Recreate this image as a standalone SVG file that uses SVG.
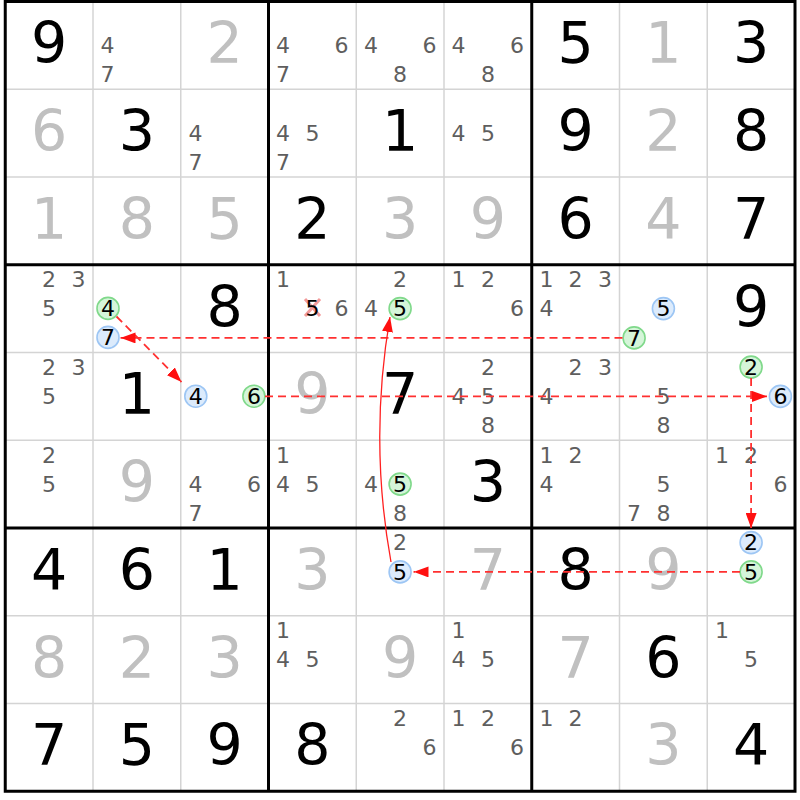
<svg xmlns="http://www.w3.org/2000/svg" width="800" height="800" viewBox="0 0 800 800">
<style>
text{font-family:"DejaVu Sans",Verdana,sans-serif;text-anchor:middle}
.b{font-size:57px;fill:#000}
.g{font-size:57px;fill:#c0c0c0}
.c{font-size:22px;fill:#5e5e5e}
.h{font-size:22px;fill:#000}
.cg{fill:#d5f5d9;stroke:#80d98b;stroke-width:1.6}
.cb{fill:#dcebfc;stroke:#9dc6f4;stroke-width:1.6}
.thin{stroke:#d4d4d4;stroke-width:1.5}
.thick{stroke:#000;stroke-width:3}
.dash{fill:none;stroke:#ff3030;stroke-width:1.8;stroke-dasharray:8,5;marker-end:url(#ah)}
.solid{fill:none;stroke:#ff2020;stroke-width:1.3;marker-end:url(#ah)}
.x{stroke:#f29a9a;stroke-width:3}
</style>
<defs>
<marker id="ah" markerUnits="userSpaceOnUse" markerWidth="15" markerHeight="11" refX="15" refY="5.5" orient="auto">
<path d="M0,0 L15,5.5 L0,11 Z" fill="#ff1010"/>
</marker>
</defs>
<rect x="0" y="0" width="800" height="800" fill="#fff"/>
<g id="grid">
<g class="thin">
<line x1="93" y1="1.5" x2="93" y2="791.25"/>
<line x1="180.75" y1="1.5" x2="180.75" y2="791.25"/>
<line x1="356.25" y1="1.5" x2="356.25" y2="791.25"/>
<line x1="444" y1="1.5" x2="444" y2="791.25"/>
<line x1="619.5" y1="1.5" x2="619.5" y2="791.25"/>
<line x1="707.25" y1="1.5" x2="707.25" y2="791.25"/>
<line x1="5.25" y1="89.25" x2="795" y2="89.25"/>
<line x1="5.25" y1="177" x2="795" y2="177"/>
<line x1="5.25" y1="352.5" x2="795" y2="352.5"/>
<line x1="5.25" y1="440.25" x2="795" y2="440.25"/>
<line x1="5.25" y1="615.75" x2="795" y2="615.75"/>
<line x1="5.25" y1="703.5" x2="795" y2="703.5"/>
</g>
<g class="thick">
<line x1="268.5" y1="1.5" x2="268.5" y2="791.25"/>
<line x1="531.75" y1="1.5" x2="531.75" y2="791.25"/>
<line x1="5.25" y1="264.75" x2="795" y2="264.75"/>
<line x1="5.25" y1="528" x2="795" y2="528"/>
<rect x="5.25" y="1.5" width="789.75" height="789.75" fill="none"/>
</g>
</g>
<g id="cells">
<g id="r0c0"><text class="b" x="49.1" y="63.4">9</text></g>
<g id="r0c1"><text class="c" x="107.6" y="53.2">4</text><text class="c" x="107.6" y="82.4">7</text></g>
<g id="r0c2"><text class="g" x="224.6" y="63.4">2</text></g>
<g id="r0c3"><text class="c" x="283.1" y="53.2">4</text><text class="c" x="341.6" y="53.2">6</text><text class="c" x="283.1" y="82.4">7</text></g>
<g id="r0c4"><text class="c" x="370.9" y="53.2">4</text><text class="c" x="429.4" y="53.2">6</text><text class="c" x="400.1" y="82.4">8</text></g>
<g id="r0c5"><text class="c" x="458.6" y="53.2">4</text><text class="c" x="517.1" y="53.2">6</text><text class="c" x="487.9" y="82.4">8</text></g>
<g id="r0c6"><text class="b" x="575.6" y="63.4">5</text></g>
<g id="r0c7"><text class="g" x="663.4" y="63.4">1</text></g>
<g id="r0c8"><text class="b" x="751.1" y="63.4">3</text></g>

<g id="r1c0"><text class="g" x="49.1" y="151.1">6</text></g>
<g id="r1c1"><text class="b" x="136.9" y="151.1">3</text></g>
<g id="r1c2"><text class="c" x="195.4" y="140.9">4</text><text class="c" x="195.4" y="170.2">7</text></g>
<g id="r1c3"><text class="c" x="283.1" y="140.9">4</text><text class="c" x="312.4" y="140.9">5</text><text class="c" x="283.1" y="170.2">7</text></g>
<g id="r1c4"><text class="b" x="400.1" y="151.1">1</text></g>
<g id="r1c5"><text class="c" x="458.6" y="140.9">4</text><text class="c" x="487.9" y="140.9">5</text></g>
<g id="r1c6"><text class="b" x="575.6" y="151.1">9</text></g>
<g id="r1c7"><text class="g" x="663.4" y="151.1">2</text></g>
<g id="r1c8"><text class="b" x="751.1" y="151.1">8</text></g>

<g id="r2c0"><text class="g" x="49.1" y="238.9">1</text></g>
<g id="r2c1"><text class="g" x="136.9" y="238.9">8</text></g>
<g id="r2c2"><text class="g" x="224.6" y="238.9">5</text></g>
<g id="r2c3"><text class="b" x="312.4" y="238.9">2</text></g>
<g id="r2c4"><text class="g" x="400.1" y="238.9">3</text></g>
<g id="r2c5"><text class="g" x="487.9" y="238.9">9</text></g>
<g id="r2c6"><text class="b" x="575.6" y="238.9">6</text></g>
<g id="r2c7"><text class="g" x="663.4" y="238.9">4</text></g>
<g id="r2c8"><text class="b" x="751.1" y="238.9">7</text></g>

<g id="r3c0"><text class="c" x="49.1" y="287.2">2</text><text class="c" x="78.4" y="287.2">3</text><text class="c" x="49.1" y="316.4">5</text></g>
<g id="r3c1"><circle class="cg" cx="108" cy="308.4" r="11"/><text class="h" x="108" y="316.2">4</text><circle class="cb" cx="108" cy="337.4" r="11"/><text class="h" x="108" y="345.2">7</text></g>
<g id="r3c2"><text class="b" x="224.6" y="326.6">8</text></g>
<g id="r3c3"><text class="c" x="283.1" y="287.2">1</text><line class="x" x1="305" y1="299" x2="320" y2="316"/><line class="x" x1="320" y1="299" x2="305" y2="316"/><text class="h" x="312.4" y="316.4">5</text><text class="c" x="341.6" y="316.4">6</text></g>
<g id="r3c4"><text class="c" x="400.1" y="287.2">2</text><text class="c" x="370.9" y="316.4">4</text><circle class="cg" cx="400.1" cy="308.6" r="11"/><text class="h" x="400.1" y="316.4">5</text></g>
<g id="r3c5"><text class="c" x="458.6" y="287.2">1</text><text class="c" x="487.9" y="287.2">2</text><text class="c" x="517.1" y="316.4">6</text></g>
<g id="r3c6"><text class="c" x="546.4" y="287.2">1</text><text class="c" x="575.6" y="287.2">2</text><text class="c" x="604.9" y="287.2">3</text><text class="c" x="546.4" y="316.4">4</text></g>
<g id="r3c7"><circle class="cb" cx="663.4" cy="308.6" r="11"/><text class="h" x="663.4" y="316.4">5</text><circle class="cg" cx="634.1" cy="337.9" r="11"/><text class="h" x="634.1" y="345.7">7</text></g>
<g id="r3c8"><text class="b" x="751.1" y="326.6">9</text></g>

<g id="r4c0"><text class="c" x="49.1" y="374.9">2</text><text class="c" x="78.4" y="374.9">3</text><text class="c" x="49.1" y="404.2">5</text></g>
<g id="r4c1"><text class="b" x="136.9" y="414.4">1</text></g>
<g id="r4c2"><circle class="cb" cx="195.8" cy="396.2" r="11"/><text class="h" x="195.8" y="404">4</text><circle class="cg" cx="253.9" cy="396.2" r="11"/><text class="h" x="253.9" y="404">6</text></g>
<g id="r4c3"><text class="g" x="312.4" y="414.4">9</text></g>
<g id="r4c4"><text class="b" x="400.1" y="414.4">7</text></g>
<g id="r4c5"><text class="c" x="487.9" y="374.9">2</text><text class="c" x="458.6" y="404.2">4</text><text class="c" x="487.9" y="404.2">5</text><text class="c" x="487.9" y="433.4">8</text></g>
<g id="r4c6"><text class="c" x="575.6" y="374.9">2</text><text class="c" x="604.9" y="374.9">3</text><text class="c" x="546.4" y="404.2">4</text></g>
<g id="r4c7"><text class="c" x="663.4" y="404.2">5</text><text class="c" x="663.4" y="433.4">8</text></g>
<g id="r4c8"><circle class="cg" cx="751.1" cy="367.1" r="11"/><text class="h" x="751.1" y="374.9">2</text><circle class="cb" cx="780.4" cy="396.4" r="11"/><text class="h" x="780.4" y="404.2">6</text></g>

<g id="r5c0"><text class="c" x="49.1" y="462.7">2</text><text class="c" x="49.1" y="491.9">5</text></g>
<g id="r5c1"><text class="g" x="136.9" y="502.1">9</text></g>
<g id="r5c2"><text class="c" x="195.4" y="491.9">4</text><text class="c" x="253.9" y="491.9">6</text><text class="c" x="195.4" y="521.2">7</text></g>
<g id="r5c3"><text class="c" x="283.1" y="462.7">1</text><text class="c" x="283.1" y="491.9">4</text><text class="c" x="312.4" y="491.9">5</text></g>
<g id="r5c4"><text class="c" x="370.9" y="491.9">4</text><circle class="cg" cx="400.1" cy="484.1" r="11"/><text class="h" x="400.1" y="491.9">5</text><text class="c" x="400.1" y="521.2">8</text></g>
<g id="r5c5"><text class="b" x="487.9" y="502.1">3</text></g>
<g id="r5c6"><text class="c" x="546.4" y="462.7">1</text><text class="c" x="575.6" y="462.7">2</text><text class="c" x="546.4" y="491.9">4</text></g>
<g id="r5c7"><text class="c" x="663.4" y="491.9">5</text><text class="c" x="634.1" y="521.2">7</text><text class="c" x="663.4" y="521.2">8</text></g>
<g id="r5c8"><text class="c" x="722" y="462.7">1</text><text class="c" x="751.1" y="462.7">2</text><text class="c" x="780.4" y="491.9">6</text></g>

<g id="r6c0"><text class="b" x="49.1" y="589.9">4</text></g>
<g id="r6c1"><text class="b" x="136.9" y="589.9">6</text></g>
<g id="r6c2"><text class="b" x="224.6" y="589.9">1</text></g>
<g id="r6c3"><text class="g" x="312.4" y="589.9">3</text></g>
<g id="r6c4"><text class="c" x="400.1" y="550.4">2</text><circle class="cb" cx="400.1" cy="571.9" r="11"/><text class="h" x="400.1" y="579.7">5</text></g>
<g id="r6c5"><text class="g" x="487.9" y="589.9">7</text></g>
<g id="r6c6"><text class="b" x="575.6" y="589.9">8</text></g>
<g id="r6c7"><text class="g" x="663.4" y="589.9">9</text></g>
<g id="r6c8"><circle class="cb" cx="751.1" cy="542.6" r="11"/><text class="h" x="751.1" y="550.4">2</text><circle class="cg" cx="751.1" cy="571.9" r="11"/><text class="h" x="751.1" y="579.7">5</text></g>

<g id="r7c0"><text class="g" x="49.1" y="677.6">8</text></g>
<g id="r7c1"><text class="g" x="136.9" y="677.6">2</text></g>
<g id="r7c2"><text class="g" x="224.6" y="677.6">3</text></g>
<g id="r7c3"><text class="c" x="283.1" y="638.2">1</text><text class="c" x="283.1" y="667.4">4</text><text class="c" x="312.4" y="667.4">5</text></g>
<g id="r7c4"><text class="g" x="400.1" y="677.6">9</text></g>
<g id="r7c5"><text class="c" x="458.6" y="638.2">1</text><text class="c" x="458.6" y="667.4">4</text><text class="c" x="487.9" y="667.4">5</text></g>
<g id="r7c6"><text class="g" x="575.6" y="677.6">7</text></g>
<g id="r7c7"><text class="b" x="663.4" y="677.6">6</text></g>
<g id="r7c8"><text class="c" x="722" y="638.2">1</text><text class="c" x="751.1" y="667.4">5</text></g>

<g id="r8c0"><text class="b" x="49.1" y="765.4">7</text></g>
<g id="r8c1"><text class="b" x="136.9" y="765.4">5</text></g>
<g id="r8c2"><text class="b" x="224.6" y="765.4">9</text></g>
<g id="r8c3"><text class="b" x="312.4" y="765.4">8</text></g>
<g id="r8c4"><text class="c" x="400.1" y="725.9">2</text><text class="c" x="429.4" y="755.2">6</text></g>
<g id="r8c5"><text class="c" x="458.6" y="725.9">1</text><text class="c" x="487.9" y="725.9">2</text><text class="c" x="517.1" y="755.2">6</text></g>
<g id="r8c6"><text class="c" x="546.4" y="725.9">1</text><text class="c" x="575.6" y="725.9">2</text></g>
<g id="r8c7"><text class="g" x="663.4" y="765.4">3</text></g>
<g id="r8c8"><text class="b" x="751.1" y="765.4">4</text></g>
</g>
<g id="connectors">
<path class="dash" d="M116.5,316.5 L181.5,382"/>
<path class="dash" d="M622.5,337.9 L120.5,337.9"/>
<path class="dash" d="M265,396.4 L767,396.4"/>
<path class="dash" d="M751.1,378 L751.1,528"/>
<path class="dash" d="M740,571.9 L413.5,571.9"/>
<path class="solid" d="M391,562 Q369,440 390,317"/>
</g>
</svg>
